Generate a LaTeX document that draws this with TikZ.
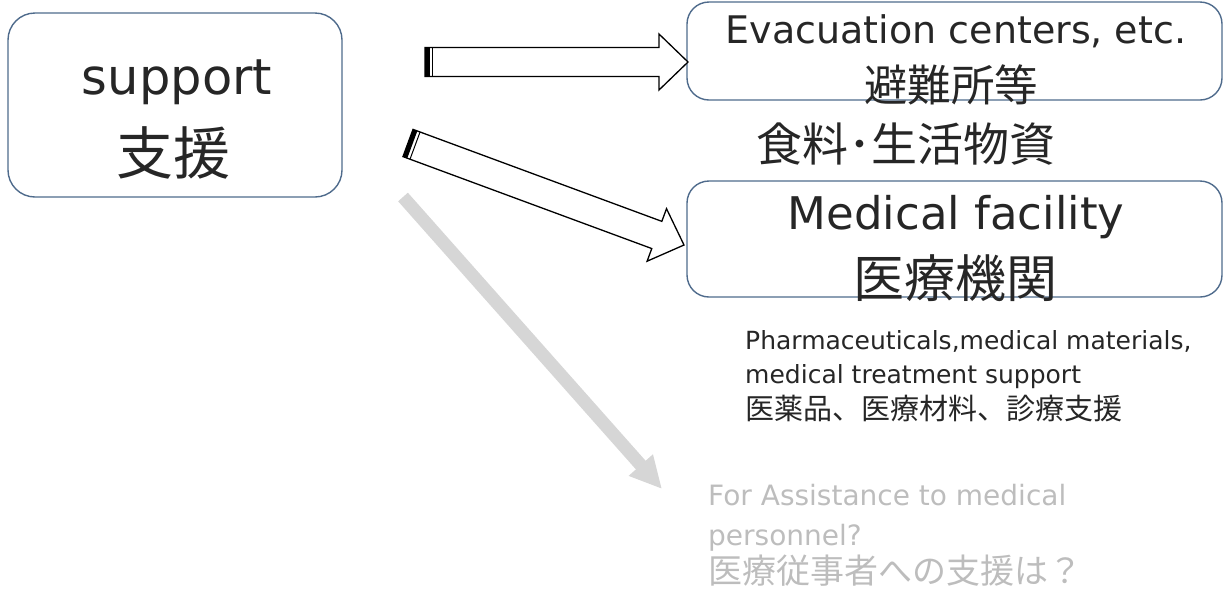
\documentclass[tikz,border=0pt]{standalone}
\usepackage{fontspec}
\setmainfont{DejaVu Sans}
\newfontfamily\jpfont{Noto Sans CJK JP}
\usetikzlibrary{positioning}
\usetikzlibrary{calc}
\usetikzlibrary{arrows.meta}
\usepackage{xcolor}

\definecolor{boxline}{HTML}{4F6B8C}
\definecolor{inkgrey}{HTML}{262626}
\definecolor{fadegrey}{HTML}{BDBDBD}
\definecolor{fadearrow}{HTML}{D6D6D6}

\tikzset{
  roundbox/.style={draw=boxline, line width=1.4pt, rounded corners=22pt, inner sep=0pt},
  txt/.style={anchor=base, inner sep=0pt, text=inkgrey},
}

% hollow block arrow from #1 (tail) to #2 (tip)
\newcommand{\blockarrow}[2]{%
  \coordinate (hb) at ($(#2)!29pt!(#1)$);
  \draw[line width=1.3pt, fill=white, line join=miter]
    ($(#1)!14.5pt!90:(#2)$) -- ($(hb)!14.5pt!90:(#2)$) -- ($(hb)!28pt!90:(#2)$)
    -- (#2) -- ($(hb)!28pt!-90:(#2)$) -- ($(hb)!14.5pt!-90:(#2)$)
    -- ($(#1)!14.5pt!-90:(#2)$) -- cycle;
  \coordinate (tb) at ($(#1)!2.3pt!(#2)$);
  \draw[line width=4.6pt] ($(tb)!14.5pt!90:(#2)$) -- ($(tb)!14.5pt!-90:(#2)$);
  \coordinate (tl) at ($(#1)!7.5pt!(#2)$);
  \draw[line width=1pt] ($(tl)!14.5pt!90:(#2)$) -- ($(tl)!14.5pt!-90:(#2)$);
}

\begin{document}
\begin{tikzpicture}[x=1pt, y=-1pt]
    \useasboundingbox (0,0) rectangle (1225,590);

    % boxes
    \node[roundbox, rounded corners=27pt, minimum width=334pt, minimum height=184pt] (sup) at (175,105) {};
    \node[roundbox, minimum width=535pt, minimum height=98pt] (evac) at (954.5,51) {};
    \node[roundbox, minimum width=535pt, minimum height=116pt] (med) at (954.5,239) {};

    % texts
    \node[txt, font=\fontsize{49.5}{50}\selectfont] (supEn) at (177,94) {support};
    \node[txt, font=\jpfont\fontsize{57}{57}\selectfont] (supJp) at (173,174) {支援};
    \node[txt, font=\fontsize{38}{40}\selectfont] (evacEn) at (956,43) {Evacuation centers, etc.};
    \node[txt, font=\jpfont\fontsize{43.5}{44}\selectfont] (evacJp) at (951,101) {避難所等};
    \node[txt, font=\jpfont\fontsize{46}{46}\selectfont] (goods) at (906,161) {食料･生活物資};
    \node[txt, font=\fontsize{45}{46}\selectfont] (medEn) at (956,229) {Medical facility};
    \node[txt, font=\jpfont\fontsize{51}{51}\selectfont] (medJp) at (955,297) {医療機関};

    \node[txt, anchor=base west, font=\fontsize{25}{26}\selectfont] (drugEn) at (745,349) {Pharmaceuticals,medical materials,};
    \node[txt, anchor=base west, font=\fontsize{25}{26}\selectfont] (treatEn) at (745,383) {medical treatment support};
    \node[txt, anchor=base west, font=\jpfont\fontsize{29}{29}\selectfont] (drugJp) at (745,419) {医薬品、医療材料、診療支援};

    \node[txt, text=fadegrey, anchor=base west, font=\fontsize{28}{29}\selectfont] (staffEn) at (708,505) {For Assistance to medical};
    \node[txt, text=fadegrey, anchor=base west, font=\fontsize{28}{29}\selectfont] (staffEn2) at (708,545) {personnel?};
    \node[txt, text=fadegrey, anchor=base west, font=\jpfont\fontsize{34}{34}\selectfont] (staffJp) at (708,583) {医療従事者への支援は？};

    % arrows
    \coordinate (a1tail) at (425,62);
    \coordinate (a1tip) at (688,62);
    \coordinate (a2tail) at (408,143);
    \coordinate (a2tip) at (684,245);
    \coordinate (gtail) at (403,197);
    \coordinate (gtip) at (662,489);
    \blockarrow{a1tail}{a1tip}
    \blockarrow{a2tail}{a2tip}
    \draw[fadearrow, line width=13pt, -{Triangle[width=30pt,length=32pt]}] (gtail) -- (gtip);
\end{tikzpicture}
\end{document}
